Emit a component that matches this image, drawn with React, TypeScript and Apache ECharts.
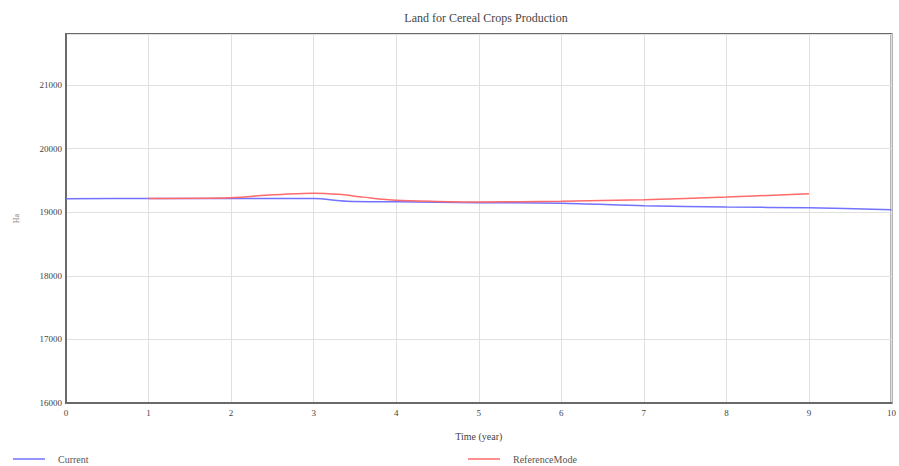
import React, { useEffect, useRef } from "react";
import * as echarts from "echarts";

const title = "Land for Cereal Crops Production";
const xName = "Time (year)";
const yName = "Ha";

const currentTimes = [0, 1, 2, 3, 3.4, 4, 5, 6, 7, 8, 9, 10];
const currentValues = [19210, 19216, 19216, 19214, 19172, 19162, 19148, 19140, 19100, 19080, 19068, 19036];

const refTimes = [1, 2, 2.5, 3, 3.3, 3.6, 4, 4.5, 5, 6, 7, 8, 8.5, 9];
const refValues = [19216, 19226, 19272, 19298, 19280, 19236, 19186, 19168, 19160, 19172, 19196, 19236, 19262, 19290];

const font = "'Liberation Serif', 'DejaVu Serif', serif";

export default function App() {
  const ref = useRef<HTMLDivElement>(null);
  useEffect(() => {
    if (!ref.current) return;
    const chart = echarts.init(ref.current, undefined, { renderer: "svg" });
    const cur = currentTimes.map((t, i) => [t, currentValues[i]]);
    const refd = refTimes.map((t, i) => [t, refValues[i]]);
    chart.setOption({
      animation: false,
      backgroundColor: "#ffffff",
      title: {
        text: title,
        left: 481,
        textAlign: "center",
        top: 7,
        textStyle: { fontFamily: font, fontSize: 12, fontWeight: "normal", color: "#444" },
      },
      grid: {
        left: 66,
        top: 34,
        right: 3,
        bottom: 63,
        show: true,
        borderColor: "#6a6a6a",
        borderWidth: 2,
        containLabel: false,
      },
      legend: [
        {
          data: ["Current"],
          left: 8,
          top: 449,
          icon: "rect",
          itemWidth: 32,
          itemHeight: 1.5,
          textStyle: { fontFamily: font, fontSize: 10, color: "#555", padding: [0, 0, 0, 8] },
        },
        {
          data: ["ReferenceMode"],
          left: 463,
          top: 449,
          icon: "rect",
          itemWidth: 32,
          itemHeight: 1.5,
          textStyle: { fontFamily: font, fontSize: 10, color: "#555", padding: [0, 0, 0, 8] },
        },
      ],
      xAxis: {
        type: "value",
        min: 0,
        max: 10,
        interval: 1,
        name: xName,
        nameLocation: "middle",
        nameGap: 28,
        nameTextStyle: { fontFamily: font, fontSize: 10, color: "#444" },
        axisLine: { show: true, lineStyle: { color: "#6a6a6a", width: 2 } },
        axisTick: { show: false },
        axisLabel: { fontFamily: font, fontSize: 9, color: "#444", margin: 5, formatter: (v: number) => String(v) },
        splitLine: { show: true, lineStyle: { color: "#e0e0e0", width: 1 } },
      },
      yAxis: {
        type: "value",
        min: 16000,
        max: 21800,
        interval: 1000,
        name: yName,
        nameLocation: "middle",
        nameGap: 46,
        nameRotate: 90,
        nameTextStyle: { fontFamily: font, fontSize: 8, color: "#888" },
        axisLine: { show: true, lineStyle: { color: "#6a6a6a", width: 2 } },
        axisTick: { show: false },
        axisLabel: {
          fontFamily: font,
          fontSize: 9,
          color: "#444",
          margin: 4,
          showMaxLabel: false,
          formatter: (v: number) => String(v),
        },
        splitLine: { show: true, lineStyle: { color: "#e0e0e0", width: 1 } },
      },
      series: [
        {
          name: "Current",
          type: "line",
          data: cur,
          symbol: "none",
          smooth: 0.3,
          lineStyle: { color: "#7272ff", width: 1.5 },
          itemStyle: { color: "#7272ff" },
          z: 2,
        },
        {
          name: "ReferenceMode",
          type: "line",
          data: refd,
          symbol: "none",
          smooth: 0.3,
          lineStyle: { color: "#ff6a6a", width: 1.5 },
          itemStyle: { color: "#ff6a6a" },
          z: 3,
        },
      ],
    });
    return () => chart.dispose();
  }, []);
  return <div ref={ref} style={{ width: 899, height: 466, position: "absolute", left: 0, top: 0 }} />;
}
